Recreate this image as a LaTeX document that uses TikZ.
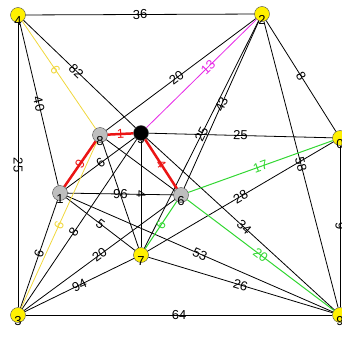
\documentclass[tikz,border=0pt]{standalone}
\usepackage{fontspec}
\setmainfont{Liberation Sans}
\definecolor{termyellow}{RGB}{255,240,0}
\definecolor{steinergray}{RGB}{190,190,190}
\definecolor{treered}{RGB}{235,20,20}
\definecolor{treepink}{RGB}{230,40,230}
\definecolor{treegreen}{RGB}{50,215,50}
\definecolor{treeyellow}{RGB}{240,215,60}

\begin{document}
\begin{tikzpicture}[x=1pt, y=-1pt, font=\fontsize{13}{14}\selectfont,
    vertex/.style={circle, draw=black!70, minimum size=15pt, inner sep=0pt},
    term/.style={vertex, fill=termyellow},
    steiner/.style={vertex, fill=steinergray},
    edge/.style={draw=black, line width=0.8pt},
    w/.style={midway, sloped, inner sep=0.5pt}]
        \useasboundingbox (0,0) rectangle (342,340);
        % vertices
        \node[term, label={[label distance=-10pt]below:4}] (n4) at (18,15) {};
        \node[term, label={[label distance=-10pt]below:2}] (n2) at (262,14) {};
        \node[term, label={[label distance=-10pt]below:3}] (n3) at (18,315) {};
        \node[term, label={[label distance=-10pt]below:9}] (n9) at (340,315) {};
        \node[term, label={[label distance=-10pt]below:0}] (n0) at (340,138) {};
        \node[term, label={[label distance=-10pt]below:7}] (n7) at (141,255) {};
        \node[steiner, label={[label distance=-10pt]below:8}] (n8) at (100,135) {};
        \node[vertex, fill=black, label={[label distance=-10pt]below:5}] (n5) at (141,133) {};
        \node[steiner, label={[label distance=-10pt]below:1}] (n1) at (60,193) {};
        \node[steiner, label={[label distance=-10pt]below:6}] (n6) at (181,195) {};
        % graph edges
        \draw[edge] (n4) -- node[w]{36} (n2);
        \draw[edge] (n4) -- node[w]{25} (n3);
        \draw[edge] (n3) -- node[w]{64} (n9);
        \draw[edge] (n4) -- node[w]{40} (n1);
        \draw[edge] (n4) -- node[w, pos=0.47]{82} (n5);
        \draw[edge] (n5) -- node[w, pos=0.52]{34} (n9);
        \draw[edge] (n2) -- node[w]{8} (n0);
        \draw[edge] (n2) -- node[w]{58} (n9);
        \draw[edge] (n2) -- node[w, pos=0.53]{20} (n8);
        \draw[edge] (n2) -- node[w]{25} (n7);
        \draw[edge] (n2) -- node[w]{43} (n6);
        \draw[edge] (n5) -- node[w]{25} (n0);
        \draw[edge] (n1) -- node[w]{96} (n6);
        \draw[edge] (n5) -- node[w]{4} (n7);
        \draw[edge] (n1) -- node[w]{53} (n9);
        \draw[edge] (n7) -- node[w]{26} (n9);
        \draw[edge] (n7) -- node[w]{28} (n0);
        \draw[edge] (n3) -- node[w]{20} (n6);
        \draw[edge] (n3) -- node[w]{94} (n7);
        \draw[edge] (n3) -- node[w, pos=0.45]{8} (n5);
        \draw[edge] (n3) -- node[w]{6} (n1);
        \draw[edge] (n1) -- node[w]{5} (n7);
        \draw[edge] (n1) -- node[w]{6} (n5);
        \draw[edge] (n8) -- (n7);
        \draw[edge] (n8) -- (n6);
        \draw[edge] (n0) -- node[w]{9} (n9);
        % tree edges
        \draw[treeyellow, line width=0.8pt] (n4) -- node[w, pos=0.45]{6} (n8);
        \draw[treeyellow, line width=0.8pt] (n3) -- node[w]{6} (n8);
        \draw[treered, line width=2.5pt] (n8) -- node[w]{1} (n5);
        \draw[treered, line width=2.5pt] (n1) -- node[w]{9} (n8);
        \draw[treered, line width=2.5pt] (n5) -- node[w]{4} (n6);
        \draw[treepink, line width=0.8pt] (n5) -- node[w, pos=0.56]{13} (n2);
        \draw[treegreen, line width=1pt] (n6) -- node[w]{17} (n0);
        \draw[treegreen, line width=1pt] (n6) -- node[w]{20} (n9);
        \draw[treegreen, line width=1pt] (n6) -- node[w]{6} (n7);
    \end{tikzpicture}
\end{document}
